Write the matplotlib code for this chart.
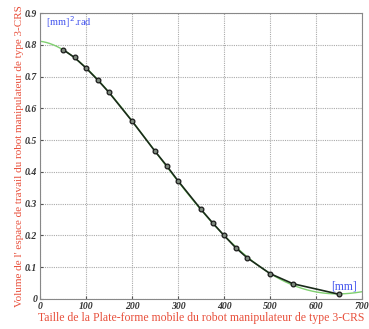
import numpy as np
import matplotlib
matplotlib.use("Agg")
import matplotlib.pyplot as plt

# data
taille = [50, 75, 100, 125, 150, 200, 250, 275, 300, 350, 375, 400, 425, 450, 500, 550, 650]
volume = [0.785, 0.760, 0.727, 0.690, 0.650, 0.560, 0.465, 0.420, 0.372, 0.282, 0.240, 0.200, 0.162, 0.130, 0.080, 0.048, 0.015]
xticks = [0, 100, 200, 300, 400, 500, 600, 700]
yticks = [0, 0.1, 0.2, 0.3, 0.4, 0.5, 0.6, 0.7, 0.8, 0.9]
ytick_labels = ["0", "0.1", "0.2", "0.3", "0.4", "0.5", "0.6", "0.7", "0.8", "0.9"]

fig = plt.figure(figsize=(3.69, 3.29), dpi=100)
ax = fig.add_axes([40/369, 1-299/329, 322/369, 286/329])

# polynomial fit of the data (green curve)
coef = np.polyfit(taille, volume, 4)
xf = np.linspace(0, 700, 300)
ax.plot(xf, np.polyval(coef, xf), color="#7fcf70", lw=1.0, zorder=2)
ax.plot(taille, volume, color="#1a2a1a", lw=1.2, marker="o", ms=3.4,
        mfc="#7d8a7d", mec="#1a1a1a", mew=0.9, zorder=3)

ax.set_xlim(0, 700)
ax.set_ylim(0, 0.9)
ax.set_xticks(xticks)
ax.set_yticks(yticks)
ax.set_yticklabels(ytick_labels)
for lab in ax.get_xticklabels() + ax.get_yticklabels():
    lab.set_fontfamily("Liberation Serif")
    lab.set_fontweight("bold")
    lab.set_fontstyle("italic")
    lab.set_fontsize(7)
    lab.set_color("#333333")
ax.tick_params(direction="in", length=2, pad=2, colors="#555555", labelcolor="#333333")
ax.grid(True, color="#aaaaaa", linestyle=(0, (1.0, 1.0)), lw=0.8)
for s in ax.spines.values():
    s.set_color("#888888")
    s.set_linewidth(0.8)

red = "#e8503c"
ax.set_xlabel("Taille de la Plate-forme mobile du robot manipulateur de type 3-CRS",
              family="Liberation Serif", size=8.5, color=red, labelpad=1)
ax.set_ylabel("Volume de l' espace de travail du robot manipulateur de type 3-CRS",
              family="Liberation Serif", size=8.0, color=red, labelpad=1)

blue = "#4455ee"
ax.text(12, 0.87, "[mm]$^2$.rad", family="Liberation Serif", size=7.5, color=blue, va="center")
ax.text(688, 0.022, "[mm]", family="Liberation Serif", size=8.5, color=blue, ha="right", va="bottom")

fig.savefig("out.png", dpi=100)
